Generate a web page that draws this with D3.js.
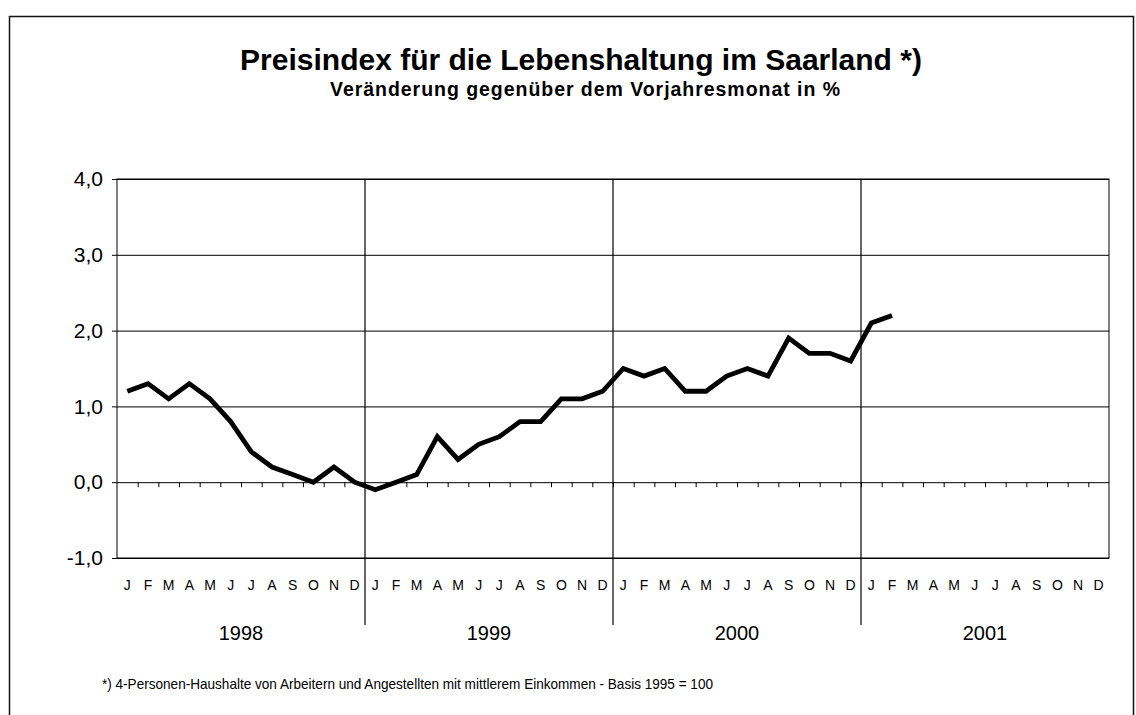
<!DOCTYPE html>
<html>
<head>
<meta charset="utf-8">
<script src="https://cdn.jsdelivr.net/npm/d3@7"></script>
<style>
  html, body { margin: 0; padding: 0; background: #fff; }
  svg { display: block; font-family: "Liberation Sans", Arial, sans-serif; }
</style>
</head>
<body>
<svg id="chart" width="1136" height="715"></svg>
<script>
// ---- data ----
const years = ["1998", "1999", "2000", "2001"];
const monthLetters = ["J", "F", "M", "A", "M", "J", "J", "A", "S", "O", "N", "D"];
const values1998 = [1.2, 1.3, 1.1, 1.3, 1.1, 0.8, 0.4, 0.2, 0.1, 0.0, 0.2, 0.0];
const values1999 = [-0.1, 0.0, 0.1, 0.6, 0.3, 0.5, 0.6, 0.8, 0.8, 1.1, 1.1, 1.2];
const values2000 = [1.5, 1.4, 1.5, 1.2, 1.2, 1.4, 1.5, 1.4, 1.9, 1.7, 1.7, 1.6];
const values2001 = [2.1, 2.2];
const yTickValues = [-1, 0, 1, 2, 3, 4];
const titleText = "Preisindex für die Lebenshaltung im Saarland *)";
const subtitleText = "Veränderung gegenüber dem Vorjahresmonat in %";
const footnoteText = "*) 4-Personen-Haushalte von Arbeitern und Angestellten mit mittlerem Einkommen  -  Basis 1995 = 100";

// ---- build ----
const series = [].concat(values1998, values1999, values2000, values2001)
  .map((v, i) => ({ i, v }));
const nMonths = years.length * 12;

const svg = d3.select("#chart");
const plot = { left: 117, right: 1109, top: 179, bottom: 558 };

const x = d3.scaleLinear().domain([0, nMonths]).range([plot.left, plot.right]);
const y = d3.scaleLinear().domain([-1, 4]).range([plot.bottom, plot.top]);

const de = d3.formatLocale({ decimal: ",", thousands: ".", grouping: [3], currency: ["", " €"], minus: "-" });
const fmt = de.format(".1f");

// outer frame
svg.append("rect")
  .attr("x", 9.5).attr("y", 16.5)
  .attr("width", 1124).attr("height", 720)
  .attr("fill", "none").attr("stroke", "#111").attr("stroke-width", 1.5);

// titles
svg.append("text")
  .attr("x", 581).attr("y", 70)
  .attr("text-anchor", "middle")
  .attr("font-size", 30).attr("font-weight", "bold")
  .attr("fill", "#000")
  .text(titleText);
svg.append("text")
  .attr("x", 330).attr("y", 96)
  .attr("font-size", 19.5).attr("font-weight", "bold")
  .attr("textLength", 510).attr("lengthAdjust", "spacing")
  .attr("fill", "#000")
  .text(subtitleText);

// horizontal grid + y axis
const yAxis = d3.axisLeft(y)
  .tickValues(yTickValues)
  .tickFormat(fmt)
  .tickSize(plot.right - plot.left + 5)
  .tickPadding(9);
const gy = svg.append("g")
  .attr("transform", `translate(${plot.right},0)`)
  .call(yAxis);
gy.select(".domain").remove();
gy.selectAll(".tick line").attr("stroke", "#000").attr("stroke-width", 1);
gy.selectAll(".tick text")
  .attr("font-size", 21).attr("fill", "#000")
  .attr("font-family", "Liberation Sans, Arial, sans-serif");

// plot border
svg.append("rect")
  .attr("x", plot.left).attr("y", plot.top)
  .attr("width", plot.right - plot.left).attr("height", plot.bottom - plot.top)
  .attr("fill", "none").attr("stroke", "#000").attr("stroke-width", 1);

// month ticks on zero line
const monthBounds = d3.range(1, nMonths);
const gm = svg.append("g")
  .attr("transform", `translate(0,${y(0)})`)
  .call(d3.axisBottom(x).tickValues(monthBounds).tickSize(5).tickFormat(""));
gm.select(".domain").remove();
gm.selectAll(".tick line").attr("stroke", "#000").attr("stroke-width", 1);

// year dividers
svg.append("g").selectAll("line")
  .data(d3.range(1, years.length))
  .join("line")
  .attr("x1", d => x(d * 12)).attr("x2", d => x(d * 12))
  .attr("y1", plot.top).attr("y2", 625)
  .attr("stroke", "#000").attr("stroke-width", 1.2);

// month letters
const monthLabels = d3.range(nMonths).map(i => ({ i, t: monthLetters[i % 12] }));
svg.append("g").selectAll("text")
  .data(monthLabels)
  .join("text")
  .attr("x", d => x(d.i + 0.5))
  .attr("y", 590)
  .attr("text-anchor", "middle")
  .attr("font-size", 14).attr("fill", "#000")
  .text(d => d.t);

// year labels
svg.append("g").selectAll("text")
  .data(years)
  .join("text")
  .attr("x", (d, k) => x(k * 12 + 6))
  .attr("y", 640)
  .attr("text-anchor", "middle")
  .attr("font-size", 20).attr("fill", "#000")
  .text(d => d);

// line
const line = d3.line().x(d => x(d.i + 0.5)).y(d => y(d.v));
svg.append("path")
  .datum(series)
  .attr("d", line)
  .attr("fill", "none")
  .attr("stroke", "#000")
  .attr("stroke-width", 4.8)
  .attr("stroke-linejoin", "miter")
  .attr("stroke-linecap", "butt");

// footnote
svg.append("text")
  .attr("x", 102).attr("y", 689)
  .attr("font-size", 14.5).attr("fill", "#000")
  .attr("textLength", 611).attr("lengthAdjust", "spacingAndGlyphs")
  .text(footnoteText);
</script>
</body>
</html>
